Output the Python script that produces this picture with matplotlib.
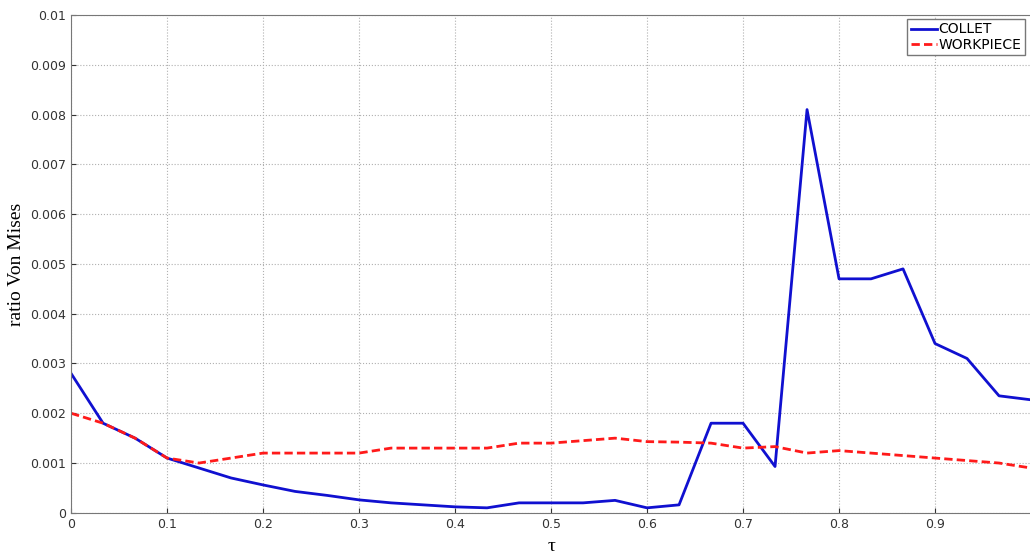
import numpy as np
import matplotlib.pyplot as plt

tau = np.arange(31) / 30.0

collet = [0.0028, 0.0018, 0.0015, 0.0011, 0.0009, 0.0007, 0.00056, 0.00043,
          0.00035, 0.00026, 0.0002, 0.00016, 0.00012, 0.0001, 0.0002, 0.0002,
          0.0002, 0.00025, 0.0001, 0.00016, 0.0018, 0.0018, 0.00093, 0.0081,
          0.0047, 0.0047, 0.0049, 0.0034, 0.0031, 0.00235, 0.00227]

workpiece = [0.002, 0.0018, 0.0015, 0.0011, 0.001, 0.0011, 0.0012, 0.0012,
             0.0012, 0.0012, 0.0013, 0.0013, 0.0013, 0.0013, 0.0014, 0.0014,
             0.00145, 0.0015, 0.00143, 0.00142, 0.0014, 0.0013, 0.00133, 0.0012,
             0.00125, 0.0012, 0.00115, 0.0011, 0.00105, 0.001, 0.0009]

fig = plt.figure(figsize=(10.3, 5.55), dpi=100)
ax = fig.add_axes([0.069, 0.076, 0.932, 0.897])

ax.plot(tau, collet, color="#1010d0", lw=2, label="COLLET")
ax.plot(tau, workpiece, color="#ff1a1a", lw=2, ls=(0, (3, 1.5)), label="WORKPIECE")

ax.set_xlim(0, 1)
ax.set_ylim(0, 0.01)
ax.set_xticks(np.arange(0, 1.0, 0.1))
ax.set_xticklabels(["0", "0.1", "0.2", "0.3", "0.4", "0.5", "0.6", "0.7", "0.8", "0.9"])
ax.set_yticks(np.arange(0, 0.0101, 0.001))
ax.set_yticklabels(["0"] + ["%.3f" % v for v in np.arange(0.001, 0.0096, 0.001)] + ["0.01"])
ax.tick_params(direction="in", labelsize=9, colors="#333333")
ax.grid(True, ls=":", color="#b0b0b0", lw=0.8)
for s in ax.spines.values():
    s.set_color("#777777")

ax.set_ylabel("ratio Von Mises", family="Liberation Serif", fontsize=14)
ax.set_xlabel("τ", family="Liberation Serif", fontsize=14, labelpad=5)

leg = ax.legend(loc="upper left", bbox_to_anchor=(0.871, 0.992), borderaxespad=0,
                fontsize=10, handlelength=1.9, handletextpad=0.1,
                fancybox=False, framealpha=1, borderpad=0.25, labelspacing=0.1)
leg.get_frame().set_edgecolor("#777777")

fig.savefig("out.png")
